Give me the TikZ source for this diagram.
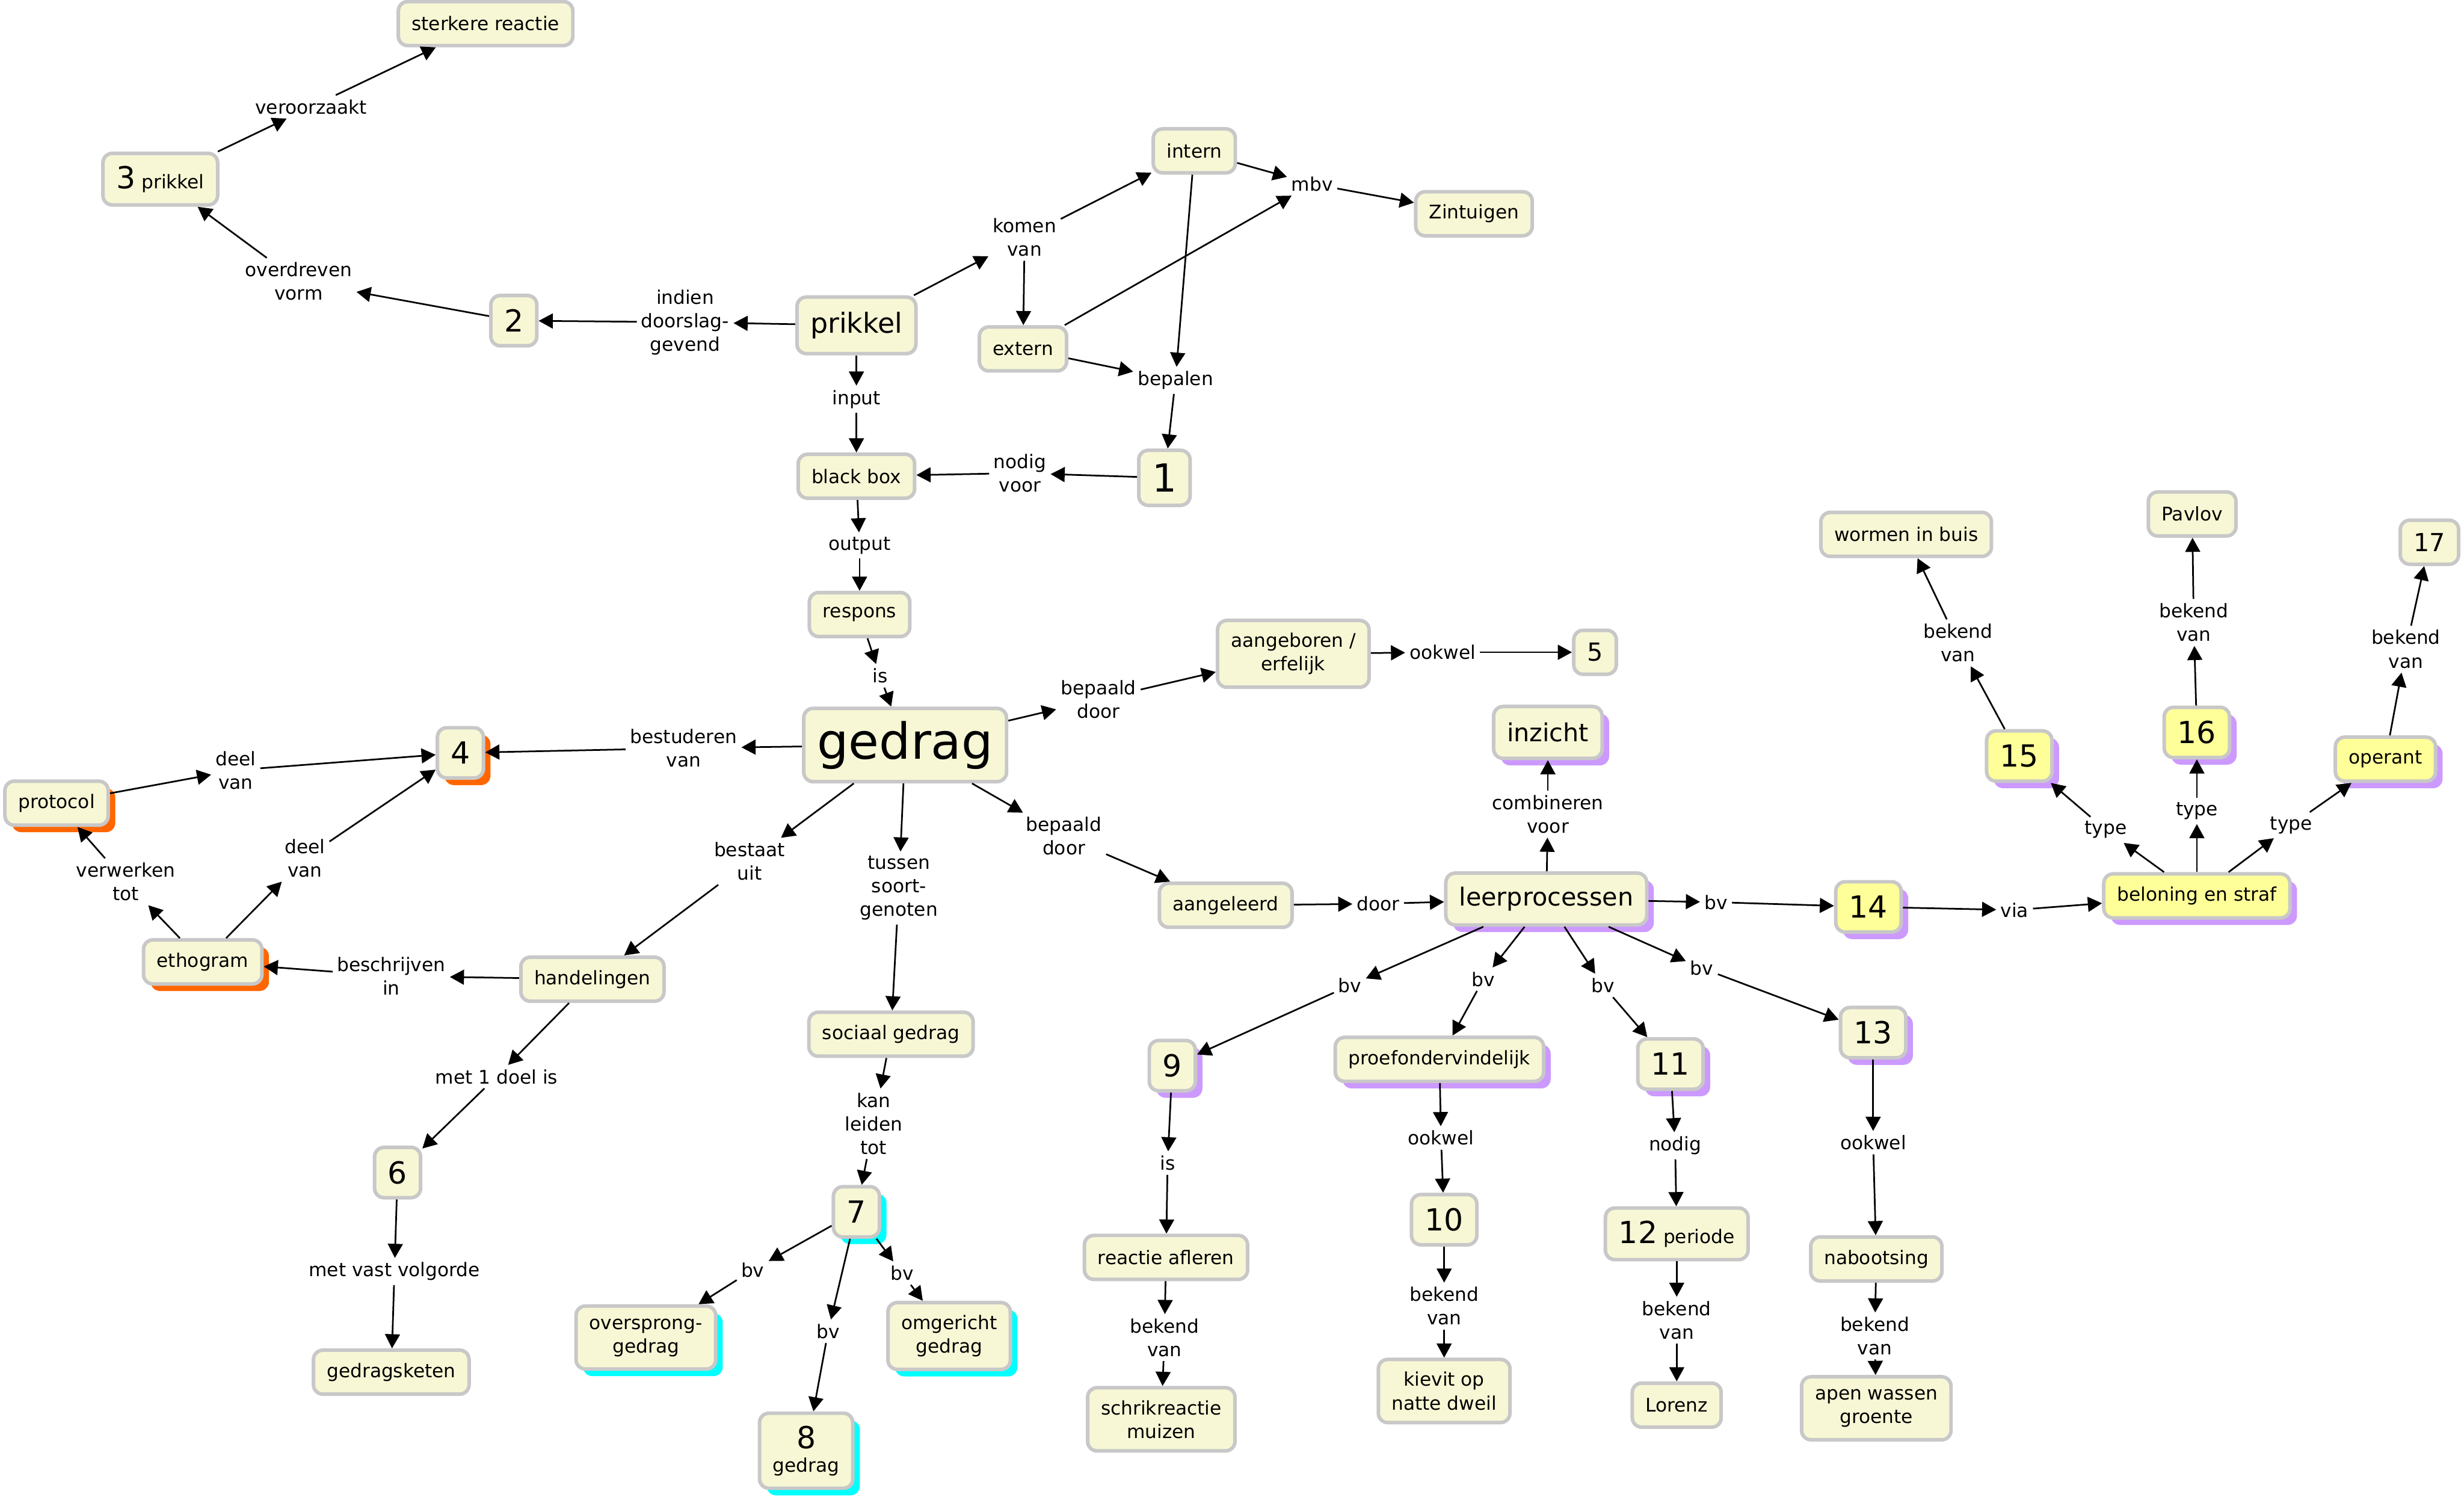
\documentclass[tikz,border=0pt]{standalone}
\usepackage{fontspec}
\setmainfont{DejaVu Sans}
\usetikzlibrary{arrows.meta,shadows}

\definecolor{cfill}{RGB}{248,247,213}
\definecolor{cyel}{RGB}{255,255,153}
\definecolor{cline}{RGB}{200,200,200}
\definecolor{shorange}{RGB}{255,102,0}
\definecolor{shpurple}{RGB}{204,153,255}
\definecolor{shcyan}{RGB}{0,255,255}

\newcommand{\cnum}{\fontsize{11}{13}\selectfont}

\tikzset{
  concept/.style={draw=cline, line width=1.3pt, fill=cfill, rounded corners=0.12cm,
    align=center, inner xsep=0.17cm, inner ysep=0.16cm, minimum height=0.56cm,
    font=\fontsize{6.8}{8.5}\selectfont},
  num/.style={font=\cnum, minimum height=0.64cm},
  yel/.style={fill=cyel},
  shad/.style={drop shadow={shadow xshift=0.09cm, shadow yshift=-0.09cm, fill=#1, opacity=1}},
  lbl/.style={align=center, inner sep=0.05cm, font=\fontsize{6.8}{8.5}\selectfont},
  link/.style={-{Triangle[length=0.18cm,width=0.19cm]}, line width=0.6pt},
}

\begin{document}
\begin{tikzpicture}[x=0.02cm, y=-0.02cm]
    \useasboundingbox (0,0) rectangle (1568,956);

    % Concepts, top part
    \node[concept] (sterker) at (309,15) {sterkere reactie};
    \node[concept] (prikdrie) at (102,114) {{\cnum 3} prikkel};
    \node[concept, num] (twee) at (327,204) {2};
    \node[concept, font=\fontsize{10}{12}\selectfont, minimum height=0.72cm] (prikkel) at (545,207) {prikkel};
    \node[concept] (intern) at (760,96) {intern};
    \node[concept] (zintuig) at (938,136) {Zintuigen};
    \node[concept] (extern) at (651,222) {extern};
    \node[concept] (blackbox) at (545,303) {black box};
    \node[concept, font=\fontsize{14}{16}\selectfont, minimum height=0.7cm] (een) at (741,304) {1};
    \node[concept] (respons) at (547,391) {respons};
    \node[concept, font=\fontsize{18}{20}\selectfont] (gedrag) at (576,474) {gedrag};
    \node[concept] (aangeb) at (823,416) {aangeboren /\\erfelijk};
    \node[concept, font=\fontsize{9}{11}\selectfont] (vijf) at (1015,415) {5};

    % Concepts, left part (orange shadow)
    \node[concept, num, shad=shorange] (vier) at (293,479) {4};
    \node[concept, shad=shorange] (protocol) at (36,511) {protocol};
    \node[concept, shad=shorange] (ethogram) at (129,612) {ethogram};
    \node[concept] (handel) at (377,623) {handelingen};
    \node[concept, num] (zes) at (253,746) {6};
    \node[concept] (keten) at (249,873) {gedragsketen};

    % Concepts, social behaviour (cyan shadow)
    \node[concept] (sociaal) at (567,658) {sociaal gedrag};
    \node[concept, num, shad=shcyan] (zeven) at (545,771) {7};
    \node[concept, shad=shcyan] (overspr) at (411,851) {oversprong-\\gedrag};
    \node[concept, shad=shcyan] (omger) at (604,850) {omgericht\\gedrag};
    \node[concept, shad=shcyan] (acht) at (513,923) {{\cnum 8}\\gedrag};

    % Concepts, learning (purple shadow)
    \node[concept] (aangel) at (780,576) {aangeleerd};
    \node[concept, font=\fontsize{9}{11}\selectfont, minimum height=0.66cm, shad=shpurple] (leerpr) at (984,572) {leerprocessen};
    \node[concept, font=\fontsize{9}{11}\selectfont, minimum height=0.66cm, shad=shpurple] (inzicht) at (985,466) {inzicht};
    \node[concept, num, yel, shad=shpurple] (veertien) at (1189,577) {14};
    \node[concept, yel, shad=shpurple] (beloning) at (1398,570) {beloning en straf};
    \node[concept, num, yel, shad=shpurple] (vijftien) at (1285,481) {15};
    \node[concept, num, yel, shad=shpurple] (zestien) at (1398,466) {16};
    \node[concept, yel, shad=shpurple] (operant) at (1518,483) {operant};
    \node[concept] (wormen) at (1213,340) {wormen in buis};
    \node[concept] (pavlov) at (1395,327) {Pavlov};
    \node[concept, font=\fontsize{9}{11}\selectfont] (zeventien) at (1546,345) {17};
    \node[concept, num, shad=shpurple] (negen) at (746,678) {9};
    \node[concept, shad=shpurple] (proef) at (916,674) {proefondervindelijk};
    \node[concept, num, shad=shpurple] (elf) at (1063,677) {11};
    \node[concept, num, shad=shpurple] (dertien) at (1192,657) {13};
    \node[concept] (afleren) at (742,800) {reactie afleren};
    \node[concept, num] (tien) at (919,776) {10};
    \node[concept] (twaalf) at (1067,785) {{\cnum 12} periode};
    \node[concept] (naboots) at (1194,801) {nabootsing};
    \node[concept] (schrik) at (739,903) {schrikreactie\\muizen};
    \node[concept] (kievit) at (919,885) {kievit op\\natte dweil};
    \node[concept] (lorenz) at (1067,894) {Lorenz};
    \node[concept] (apen) at (1194,896) {apen wassen\\groente};

    % Linking phrases
    \node[lbl] (lveroorz) at (198,68) {veroorzaakt};
    \node[lbl] (loverdr) at (190,179) {overdreven\\vorm};
    \node[lbl] (lindien) at (436,205) {indien\\doorslag-\\gevend};
    \node[lbl] (lkomen) at (652,151) {komen\\van};
    \node[lbl] (lmbv) at (835,117) {mbv};
    \node[lbl] (lbepalen) at (748,242) {bepalen};
    \node[lbl] (linput) at (545,254) {input};
    \node[lbl] (lnodigv) at (649,301) {nodig\\voor};
    \node[lbl] (loutput) at (547,347) {output};
    \node[lbl] (lisA) at (560,430) {is};
    \node[lbl] (lbepA) at (699,445) {bepaald\\door};
    \node[lbl] (lookA) at (918,415) {ookwel};
    \node[lbl] (lbestud) at (435,476) {bestuderen\\van};
    \node[lbl] (ldeelA) at (150,490) {deel\\van};
    \node[lbl] (ldeelB) at (194,546) {deel\\van};
    \node[lbl] (lverw) at (80,561) {verwerken\\tot};
    \node[lbl] (lbeschr) at (249,621) {beschrijven\\in};
    \node[lbl] (lbestaat) at (477,548) {bestaat\\uit};
    \node[lbl] (ltussen) at (572,565) {tussen\\soort-\\genoten};
    \node[lbl] (lbepB) at (677,532) {bepaald\\door};
    \node[lbl] (ldoor) at (877,575) {door};
    \node[lbl] (lcomb) at (985,518) {combineren\\voor};
    \node[lbl] (lbvA) at (1092,574) {bv};
    \node[lbl] (lvia) at (1282,579) {via};
    \node[lbl] (ltypeA) at (1340,528) {type};
    \node[lbl] (ltypeB) at (1398,516) {type};
    \node[lbl] (ltypeC) at (1458,525) {type};
    \node[lbl] (lbekA) at (1246,409) {bekend\\van};
    \node[lbl] (lbekB) at (1396,396) {bekend\\van};
    \node[lbl] (lbekC) at (1531,413) {bekend\\van};
    \node[lbl] (lbvB) at (859,627) {bv};
    \node[lbl] (lbvC) at (944,623) {bv};
    \node[lbl] (lbvD) at (1020,627) {bv};
    \node[lbl] (lbvE) at (1083,616) {bv};
    \node[lbl] (ldoel) at (316,685) {met 1 doel is};
    \node[lbl] (lvolg) at (251,809) {met vast volgorde};
    \node[lbl] (lkan) at (556,715) {kan\\leiden\\tot};
    \node[lbl] (lbvF) at (479,808) {bv};
    \node[lbl] (lbvG) at (527,847) {bv};
    \node[lbl] (lbvH) at (574,810) {bv};
    \node[lbl] (lisB) at (743,740) {is};
    \node[lbl] (lbekD) at (741,851) {bekend\\van};
    \node[lbl] (lookB) at (917,724) {ookwel};
    \node[lbl] (lbekE) at (919,831) {bekend\\van};
    \node[lbl] (lnodig) at (1066,729) {nodig};
    \node[lbl] (lbekF) at (1067,840) {bekend\\van};
    \node[lbl] (lookC) at (1192,727) {ookwel};
    \node[lbl] (lbekG) at (1193,850) {bekend\\van};

    % Links around prikkel
    \draw[link] (prikdrie) -- (lveroorz);
    \draw[link] (lveroorz) -- (sterker);
    \draw[link] (twee) -- (loverdr);
    \draw[link] (loverdr) -- (prikdrie);
    \draw[link] (prikkel) -- (lindien);
    \draw[link] (lindien) -- (twee);
    \draw[link] (prikkel) -- (lkomen);
    \draw[link] (lkomen) -- (intern);
    \draw[link] (lkomen) -- (extern);
    \draw[link] (intern) -- (lmbv);
    \draw[link] (extern) -- (lmbv);
    \draw[link] (lmbv) -- (zintuig);
    \draw[link] (intern) -- (lbepalen);
    \draw[link] (extern) -- (lbepalen);
    \draw[link] (lbepalen) -- (een);
    \draw[link] (prikkel) -- (linput);
    \draw[link] (linput) -- (blackbox);
    \draw[link] (een) -- (lnodigv);
    \draw[link] (lnodigv) -- (blackbox);
    \draw[link] (blackbox) -- (loutput);
    \draw[link] (loutput) -- (respons);
    \draw[link] (respons) -- (lisA);
    \draw[link] (lisA) -- (gedrag);

    % Links around gedrag
    \draw[link] (gedrag) -- (lbepA);
    \draw[link] (lbepA) -- (aangeb);
    \draw[link] (aangeb) -- (lookA);
    \draw[link] (lookA) -- (vijf);
    \draw[link] (gedrag) -- (lbestud);
    \draw[link] (lbestud) -- (vier);
    \draw[link] (protocol) -- (ldeelA);
    \draw[link] (ldeelA) -- (vier);
    \draw[link] (ethogram) -- (ldeelB);
    \draw[link] (ldeelB) -- (vier);
    \draw[link] (ethogram) -- (lverw);
    \draw[link] (lverw) -- (protocol);
    \draw[link] (handel) -- (lbeschr);
    \draw[link] (lbeschr) -- (ethogram);
    \draw[link] (gedrag) -- (lbestaat);
    \draw[link] (lbestaat) -- (handel);
    \draw[link] (handel) -- (ldoel);
    \draw[link] (ldoel) -- (zes);
    \draw[link] (zes) -- (lvolg);
    \draw[link] (lvolg) -- (keten);
    \draw[link] (gedrag) -- (ltussen);
    \draw[link] (ltussen) -- (sociaal);
    \draw[link] (sociaal) -- (lkan);
    \draw[link] (lkan) -- (zeven);
    \draw[link] (zeven) -- (lbvF);
    \draw[link] (lbvF) -- (overspr);
    \draw[link] (zeven) -- (lbvG);
    \draw[link] (lbvG) -- (acht);
    \draw[link] (zeven) -- (lbvH);
    \draw[link] (lbvH) -- (omger);
    \draw[link] (gedrag) -- (lbepB);
    \draw[link] (lbepB) -- (aangel);

    % Links around leerprocessen
    \draw[link] (aangel) -- (ldoor);
    \draw[link] (ldoor) -- (leerpr);
    \draw[link] (leerpr) -- (lcomb);
    \draw[link] (lcomb) -- (inzicht);
    \draw[link] (leerpr) -- (lbvA);
    \draw[link] (lbvA) -- (veertien);
    \draw[link] (veertien) -- (lvia);
    \draw[link] (lvia) -- (beloning);
    \draw[link] (beloning) -- (ltypeA);
    \draw[link] (ltypeA) -- (vijftien);
    \draw[link] (beloning) -- (ltypeB);
    \draw[link] (ltypeB) -- (zestien);
    \draw[link] (beloning) -- (ltypeC);
    \draw[link] (ltypeC) -- (operant);
    \draw[link] (vijftien) -- (lbekA);
    \draw[link] (lbekA) -- (wormen);
    \draw[link] (zestien) -- (lbekB);
    \draw[link] (lbekB) -- (pavlov);
    \draw[link] (operant) -- (lbekC);
    \draw[link] (lbekC) -- (zeventien);
    \draw[link] (leerpr) -- (lbvB);
    \draw[link] (lbvB) -- (negen);
    \draw[link] (leerpr) -- (lbvC);
    \draw[link] (lbvC) -- (proef);
    \draw[link] (leerpr) -- (lbvD);
    \draw[link] (lbvD) -- (elf);
    \draw[link] (leerpr) -- (lbvE);
    \draw[link] (lbvE) -- (dertien);

    % Examples below
    \draw[link] (negen) -- (lisB);
    \draw[link] (lisB) -- (afleren);
    \draw[link] (afleren) -- (lbekD);
    \draw[link] (lbekD) -- (schrik);
    \draw[link] (proef) -- (lookB);
    \draw[link] (lookB) -- (tien);
    \draw[link] (tien) -- (lbekE);
    \draw[link] (lbekE) -- (kievit);
    \draw[link] (elf) -- (lnodig);
    \draw[link] (lnodig) -- (twaalf);
    \draw[link] (twaalf) -- (lbekF);
    \draw[link] (lbekF) -- (lorenz);
    \draw[link] (dertien) -- (lookC);
    \draw[link] (lookC) -- (naboots);
    \draw[link] (naboots) -- (lbekG);
    \draw[link] (lbekG) -- (apen);
\end{tikzpicture}
\end{document}
